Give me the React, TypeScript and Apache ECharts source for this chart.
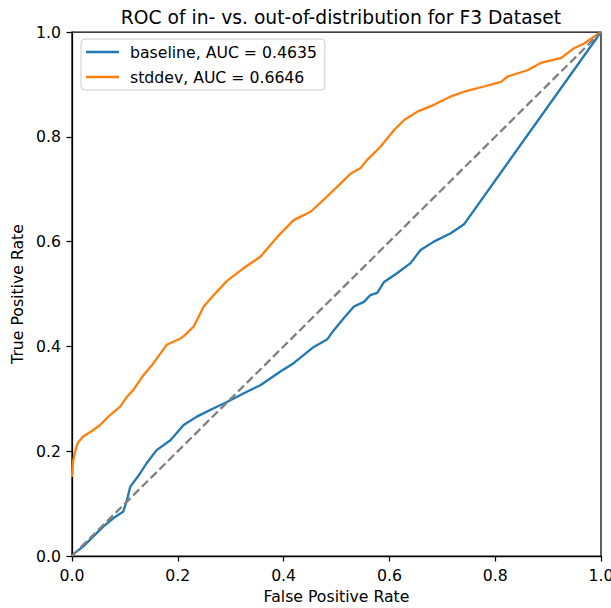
import React, { useEffect, useRef } from "react";
import * as echarts from "echarts";

const baselineFpr = [0, 0.003, 0.021, 0.04, 0.059, 0.078, 0.097, 0.104, 0.11, 0.129, 0.141, 0.16, 0.186, 0.211, 0.236, 0.268, 0.293, 0.324, 0.356, 0.394, 0.419, 0.457, 0.482, 0.495, 0.514, 0.533, 0.552, 0.564, 0.577, 0.59, 0.615, 0.64, 0.659, 0.684, 0.716, 0.741, 1];
const baselineTpr = [0, 0.004, 0.018, 0.037, 0.056, 0.072, 0.085, 0.107, 0.132, 0.158, 0.177, 0.202, 0.221, 0.25, 0.266, 0.282, 0.294, 0.31, 0.326, 0.352, 0.368, 0.399, 0.413, 0.431, 0.454, 0.476, 0.485, 0.498, 0.502, 0.523, 0.54, 0.559, 0.584, 0.6, 0.616, 0.633, 1];

const stddevFpr = [0, 0.002, 0.006, 0.011, 0.021, 0.04, 0.053, 0.072, 0.091, 0.104, 0.116, 0.135, 0.154, 0.179, 0.205, 0.214, 0.23, 0.249, 0.268, 0.293, 0.324, 0.356, 0.388, 0.419, 0.451, 0.482, 0.508, 0.527, 0.545, 0.558, 0.583, 0.609, 0.628, 0.653, 0.684, 0.716, 0.741, 0.779, 0.811, 0.823, 0.861, 0.886, 0.924, 0.949, 0.968, 1];
const stddevTpr = [0.151, 0.18, 0.2, 0.216, 0.228, 0.24, 0.25, 0.269, 0.285, 0.304, 0.317, 0.345, 0.368, 0.403, 0.415, 0.422, 0.438, 0.476, 0.498, 0.525, 0.549, 0.571, 0.609, 0.641, 0.657, 0.686, 0.711, 0.73, 0.74, 0.756, 0.781, 0.813, 0.832, 0.848, 0.861, 0.877, 0.886, 0.896, 0.905, 0.915, 0.927, 0.941, 0.95, 0.969, 0.978, 1];

const chanceFpr = [0, 1];
const chanceTpr = [0, 1];

const seriesNames = ["baseline, AUC = 0.4635", "stddev, AUC = 0.6646"];
const tickLabels = ["0.0", "0.2", "0.4", "0.6", "0.8", "1.0"];

const zip = (xs: number[], ys: number[]) => xs.map((x, i) => [x, ys[i]]);

const FONT = "DejaVu Sans";
const FS = 15.7;

export default function App() {
  const ref = useRef<HTMLDivElement>(null);
  useEffect(() => {
    document.body.style.margin = "0";
    const chart = echarts.init(ref.current!, undefined, { renderer: "svg" });
    const fmt = (v: number) => tickLabels[Math.round(v / 0.2)] ?? String(v);
    const axisCommon = {
      type: "value" as const,
      min: 0,
      max: 1,
      interval: 0.2,
      splitLine: { show: false },
      axisLine: { show: true, onZero: false, lineStyle: { color: "#000", width: 1.25 } },
      axisTick: { show: true, length: 5.5, lineStyle: { color: "#000", width: 1.25 } },
      axisLabel: { fontFamily: FONT, fontSize: FS, color: "#000", margin: 11, formatter: fmt },
      nameLocation: "middle" as const,
      nameTextStyle: { fontFamily: FONT, fontSize: FS, color: "#000" },
    };
    chart.setOption({
      animation: false,
      backgroundColor: "#fff",
      title: {
        text: "ROC of in- vs. out-of-distribution for F3 Dataset",
        left: 336,
        top: 3,
        textAlign: "center",
        textStyle: { fontFamily: FONT, fontSize: 18.7, fontWeight: "normal", color: "#000" },
      },
      grid: {
        left: 72,
        top: 32,
        width: 529,
        height: 524,
        containLabel: false,
        outerBoundsMode: "none",
        show: true,
        borderColor: "#000",
        borderWidth: 1.25,
        backgroundColor: "transparent",
      },
      legend: {
        orient: "vertical",
        left: 81,
        top: 39,
        padding: [5, 8, 5, 5],
        itemGap: 9,
        itemWidth: 33,
        itemHeight: 2.3,
        icon: "rect",
        borderColor: "#cccccc",
        borderWidth: 1,
        borderRadius: 4,
        backgroundColor: "rgba(255,255,255,0.8)",
        textStyle: { fontFamily: FONT, fontSize: FS, color: "#000", padding: [0, 0, 0, 6] },
        data: seriesNames,
      },
      xAxis: { ...axisCommon, name: "False Positive Rate", nameGap: 32 },
      yAxis: { ...axisCommon, name: "True Positive Rate", nameGap: 43 },
      series: [
        {
          name: seriesNames[0],
          type: "line",
          data: zip(baselineFpr, baselineTpr),
          showSymbol: false,
          lineStyle: { color: "#1f77b4", width: 2.3 },
          itemStyle: { color: "#1f77b4" },
        },
        {
          name: seriesNames[1],
          type: "line",
          data: zip(stddevFpr, stddevTpr),
          showSymbol: false,
          lineStyle: { color: "#ff7f0e", width: 2.3 },
          itemStyle: { color: "#ff7f0e" },
        },
        {
          name: "chance",
          type: "line",
          data: zip(chanceFpr, chanceTpr),
          showSymbol: false,
          lineStyle: { color: "#808080", width: 2.3, type: [8.5, 3.8] },
          itemStyle: { color: "#808080" },
        },
      ],
    });
    return () => chart.dispose();
  }, []);
  return <div ref={ref} style={{ width: 611, height: 608 }} />;
}
